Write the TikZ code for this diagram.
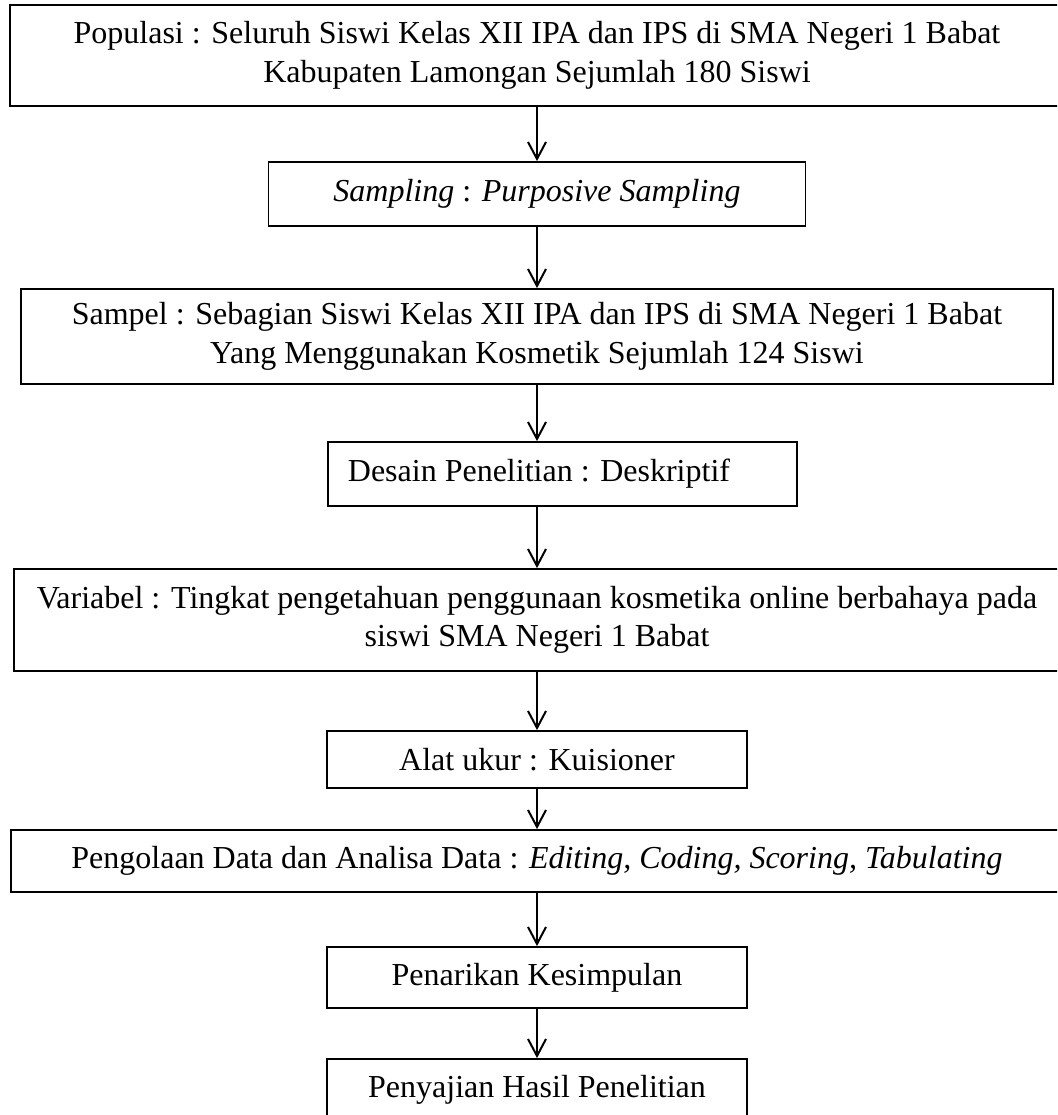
\documentclass[tikz,border=0pt]{standalone}
\usepackage{fontspec}
\setmainfont{Liberation Serif}
\usetikzlibrary{arrows.meta}
\begin{document}
\begin{tikzpicture}[x=0.5pt,y=-0.5pt,
  box/.style={draw=black, line width=0.9pt, inner sep=0pt, align=center,
    font=\fontsize{16}{19.25}\selectfont},
  arr/.style={line width=1pt, -{Straight Barb[length=8.5pt,width=9pt,line width=1pt]}}]
\useasboundingbox (0,0) rectangle (1057,1115);
\clip (0,0) rectangle (1057,1115);
\node[box, minimum width=527pt, minimum height=50.5pt] (b1) at (537,55.5)
  {Populasi : Seluruh Siswi Kelas XII IPA dan IPS di SMA Negeri 1 Babat\\Kabupaten Lamongan Sejumlah 180 Siswi};
\node[box, minimum width=268.5pt, minimum height=32pt] (b2) at (537,194)
  {\textit{Sampling} : \textit{Purposive Sampling}};
\node[box, minimum width=516pt, minimum height=47.5pt] (b3) at (537,336.5)
  {Sampel : Sebagian Siswi Kelas XII IPA dan IPS di SMA Negeri 1 Babat\\Yang Menggunakan Kosmetik Sejumlah 124 Siswi};
\node[box, anchor=west, align=flush left, inner xsep=10pt, text width=214.5pt, minimum height=32pt] (b4) at (327,474)
  {Desain Penelitian : Deskriptif};
\node[box, minimum width=523pt, minimum height=51pt] (b5) at (537,620)
  {Variabel : Tingkat pengetahuan penggunaan kosmetika online berbahaya pada\\siswi SMA Negeri 1 Babat};
\node[box, minimum width=210pt, minimum height=28.5pt] (b6) at (537,759.5)
  {Alat ukur : Kuisioner};
\node[box, minimum width=526pt, minimum height=31pt] (b7) at (537,861)
  {Pengolaan Data dan Analisa Data : \textit{Editing, Coding, Scoring, Tabulating}};
\node[box, minimum width=210pt, minimum height=30.5pt] (b8) at (537,977.5)
  {Penarikan Kesimpulan};
\node[box, minimum width=210pt, minimum height=31pt] (b9) at (537,1090)
  {Penyajian Hasil Penelitian};
\draw[arr] (b1.south) -- (b2.north);
\draw[arr] (b2.south) -- (b3.north);
\draw[arr] (b3.south) -- (b4.north -| b3.south);
\draw[arr] (b4.south -| b5.north) -- (b5.north);
\draw[arr] (b5.south) -- (b6.north);
\draw[arr] (b6.south) -- (b7.north);
\draw[arr] (b7.south) -- (b8.north);
\draw[arr] (b8.south) -- (b9.north);
\end{tikzpicture}
\end{document}
